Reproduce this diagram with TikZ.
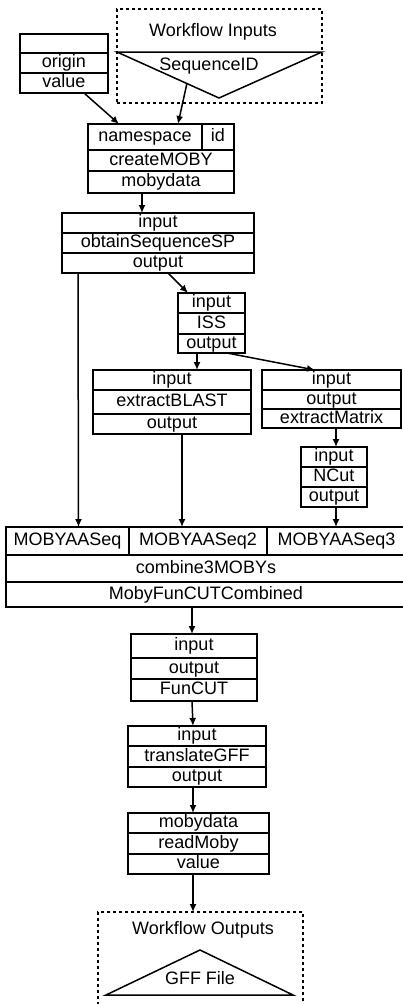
\documentclass[tikz,border=0pt]{standalone}
\usepackage{fontspec}
\setmainfont{Liberation Sans}
\usetikzlibrary{arrows.meta, positioning}
\newcommand{\wf}{\fontsize{18}{18}\selectfont}

\begin{document}
\begin{tikzpicture}[
    x=1pt, y=-1pt,
    cell/.style={draw, line width=1.5pt, inner sep=0pt, outer sep=0pt, font=\wf, text height=13pt, text depth=4pt, minimum height=20pt},
    group/.style={draw, dash pattern=on 3pt off 3pt, line width=1.5pt, inner sep=0pt, outer sep=0pt},
    wftext/.style={font=\wf, inner sep=0pt},
    flow/.style={draw, line width=1.5pt, -{Latex[length=8pt, width=7pt]}}
]
\useasboundingbox (0,0) rectangle (403,1004);

% Workflow inputs
\node[group, minimum width=205pt, minimum height=94pt, anchor=north west] (inbox) at (117,9) {};
\node[wftext] (intitle) at (213,32) {Workflow Inputs};
\draw[line width=1.5pt] (117,52) -- (322,52) -- (219,98) -- cycle;
\node[wftext] (seqid) at (209,66) {SequenceID};
\coordinate (seq-out) at (187,83);

% origin / value
\node[cell, minimum width=88pt, minimum height=19pt, anchor=north west] (ov-top) at (20,34) {};
\node[cell, minimum width=88pt, below=0pt of ov-top] (ov-origin) {origin};
\node[cell, minimum width=88pt, below=0pt of ov-origin] (ov-value) {value};

% createMOBY
\node[cell, minimum width=114pt, minimum height=26pt, anchor=north west] (cm-ns) at (88,124) {namespace};
\node[cell, minimum width=32pt, minimum height=26pt, right=0pt of cm-ns] (cm-id) {id};
\node[cell, minimum width=146pt, minimum height=21pt, anchor=north west] (cm-fn) at (cm-ns.south west) {createMOBY};
\node[cell, minimum width=146pt, minimum height=22pt, below=0pt of cm-fn] (cm-out) {mobydata};

% obtainSequenceSP
\node[cell, minimum width=192pt, anchor=north west] (os-in) at (62,213) {input};
\node[cell, minimum width=192pt, below=0pt of os-in] (os-fn) {obtainSequenceSP};
\node[cell, minimum width=192pt, below=0pt of os-fn] (os-out) {output};

% ISS
\node[cell, minimum width=67pt, anchor=north west] (iss-in) at (178,293) {input};
\node[cell, minimum width=67pt, minimum height=21pt, below=0pt of iss-in] (iss-fn) {ISS};
\node[cell, minimum width=67pt, minimum height=19pt, below=0pt of iss-fn] (iss-out) {output};

% extractBLAST
\node[cell, minimum width=158pt, anchor=north west] (eb-in) at (93,370) {input};
\node[cell, minimum width=158pt, minimum height=24pt, below=0pt of eb-in] (eb-fn) {extractBLAST};
\node[cell, minimum width=158pt, below=0pt of eb-fn] (eb-out) {output};

% extractMatrix
\node[cell, minimum width=139pt, anchor=north west] (em-in) at (262,370) {input};
\node[cell, minimum width=139pt, minimum height=19pt, below=0pt of em-in] (em-out) {output};
\node[cell, minimum width=139pt, minimum height=19pt, below=0pt of em-out] (em-fn) {extractMatrix};

% NCut
\node[cell, minimum width=66pt, anchor=north west] (nc-in) at (301,447) {input};
\node[cell, minimum width=66pt, below=0pt of nc-in] (nc-fn) {NCut};
\node[cell, minimum width=66pt, below=0pt of nc-fn] (nc-out) {output};

% combine3MOBYs
\node[cell, minimum width=123pt, minimum height=28pt, anchor=north west] (cb-a) at (6,527) {MOBYAASeq};
\node[cell, minimum width=138pt, minimum height=28pt, right=0pt of cb-a] (cb-b) {MOBYAASeq2};
\node[cell, minimum width=139pt, minimum height=28pt, right=0pt of cb-b] (cb-c) {MOBYAASeq3};
\node[cell, minimum width=400pt, minimum height=27pt, anchor=north west] (cb-fn) at (cb-a.south west) {combine3MOBYs};
\node[cell, minimum width=400pt, minimum height=25pt, below=0pt of cb-fn] (cb-out) {MobyFunCUTCombined};

% FunCUT
\node[cell, minimum width=126pt, minimum height=24pt, anchor=north west] (fc-in) at (131,634) {input};
\node[cell, minimum width=126pt, minimum height=21pt, below=0pt of fc-in] (fc-out) {output};
\node[cell, minimum width=126pt, minimum height=22pt, below=0pt of fc-out] (fc-fn) {FunCUT};

% translateGFF
\node[cell, minimum width=138pt, anchor=north west] (tg-in) at (128,726) {input};
\node[cell, minimum width=138pt, minimum height=21pt, below=0pt of tg-in] (tg-fn) {translateGFF};
\node[cell, minimum width=138pt, below=0pt of tg-fn] (tg-out) {output};

% readMoby
\node[cell, minimum width=141pt, anchor=north west] (rm-in) at (128,813) {mobydata};
\node[cell, minimum width=141pt, minimum height=21pt, below=0pt of rm-in] (rm-fn) {readMoby};
\node[cell, minimum width=141pt, below=0pt of rm-fn] (rm-out) {value};

% Workflow outputs
\node[group, minimum width=205pt, minimum height=100pt, anchor=north west] (outbox) at (98,912) {};
\node[wftext] (outtitle) at (203,930) {Workflow Outputs};
\draw[line width=1.5pt] (200,950) -- (293,995) -- (106,995) -- cycle;
\node[wftext] (gff) at (200,978) {GFF File};

% Paths
\path[flow] ([xshift=20pt]ov-value.south) -- ([xshift=-26pt]cm-ns.north);
\path[flow] (seq-out) -- ([xshift=33pt]cm-ns.north);
\path[flow] ([xshift=-19pt]cm-out.south) -- ([xshift=-16pt]os-in.north);
\path[flow] ([xshift=10pt]os-out.south) -- ([xshift=-23.5pt]iss-in.north);
\path[flow] ([xshift=-80pt]os-out.south) -- ([xshift=11pt]cb-a.north);
\path[flow] ([xshift=-14.5pt]iss-out.south) -- ([xshift=25pt]eb-in.north);
\path[flow] ([xshift=15.5pt]iss-out.south) -- ([xshift=-16.5pt]em-in.north);
\path[flow] ([xshift=10pt]eb-out.south) -- ([xshift=-16pt]cb-b.north);
\path[flow] ([xshift=4.5pt]em-fn.south) -- ([xshift=2pt]nc-in.north);
\path[flow] ([xshift=2pt]nc-out.south) -- ([xshift=-0.5pt]cb-c.north);
\path[flow] ([xshift=-14pt]cb-out.south) -- ([xshift=-2pt]fc-in.north);
\path[flow] ([xshift=-2pt]fc-fn.south) -- ([xshift=-4pt]tg-in.north);
\path[flow] ([xshift=-4pt]tg-out.south) -- ([xshift=-5.5pt]rm-in.north);
\path[flow] ([xshift=-5.5pt]rm-out.south) -- ([xshift=-7.5pt]outbox.north);

\end{tikzpicture}
\end{document}
